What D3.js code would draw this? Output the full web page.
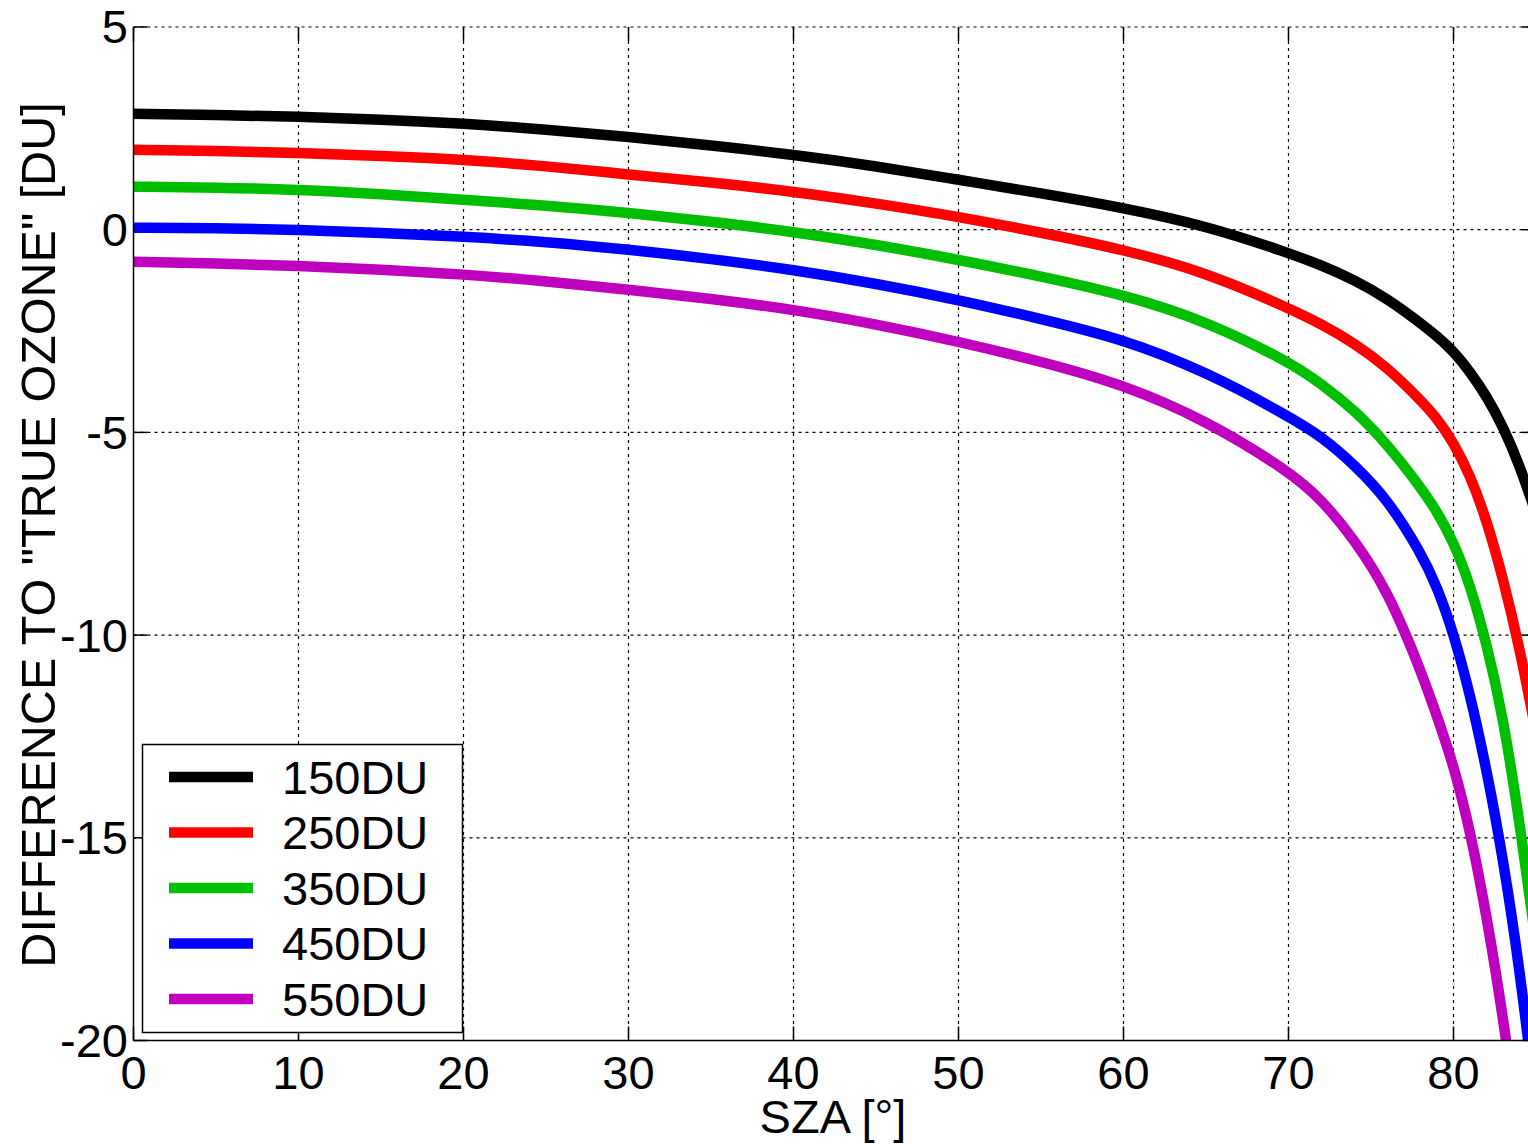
<!DOCTYPE html>
<html>
<head>
<meta charset="utf-8">
<script src="https://cdn.jsdelivr.net/npm/d3@7"></script>
<style>
  body { margin: 0; background: #fff; }
  svg { display: block; font-family: "Liberation Sans", Arial, sans-serif; }
</style>
</head>
<body>
<div id="root"></div>
<script>
// Solar zenith angles (deg) at which the curves were read
const sza = [0, 5, 10, 15, 20, 25, 30, 35, 40, 45, 50, 55, 60, 65, 70, 72, 74, 76, 78, 79, 80, 81, 82, 83, 84, 85];

// Difference to "true ozone" [DU], one array per total ozone column
const du150 = [2.86, 2.83, 2.79, 2.72, 2.62, 2.47, 2.29, 2.08, 1.85, 1.57, 1.23, 0.9, 0.54, 0.1, -0.57, -0.88, -1.24, -1.7, -2.3, -2.63, -3.0, -3.5, -4.1, -4.85, -5.8, -7.0];
const du250 = [1.97, 1.94, 1.9, 1.82, 1.73, 1.57, 1.36, 1.17, 0.94, 0.65, 0.32, -0.07, -0.49, -1.05, -1.93, -2.33, -2.8, -3.4, -4.2, -4.65, -5.25, -6.05, -7.15, -8.6, -10.3, -12.4];
const du350 = [1.06, 1.04, 0.99, 0.88, 0.74, 0.6, 0.42, 0.2, -0.05, -0.37, -0.74, -1.15, -1.6, -2.25, -3.25, -3.8, -4.45, -5.3, -6.35, -6.95, -7.7, -8.75, -10.2, -12.0, -14.6, -17.6];
const du450 = [0.05, 0.04, 0.0, -0.08, -0.17, -0.3, -0.49, -0.72, -0.99, -1.33, -1.73, -2.2, -2.7, -3.5, -4.6, -5.1, -5.8, -6.65, -7.95, -8.8, -9.95, -11.45, -13.3, -15.5, -18.2, -21.6];
const du550 = [-0.79, -0.83, -0.89, -0.98, -1.1, -1.27, -1.48, -1.7, -1.97, -2.33, -2.76, -3.25, -3.82, -4.7, -5.95, -6.65, -7.65, -8.9, -10.85, -12.0, -13.2, -14.8, -16.9, -19.4, -22.4, -26.0];

const seriesNames = ["150DU", "250DU", "350DU", "450DU", "550DU"];
const seriesValues = [du150, du250, du350, du450, du550];
const seriesColors = ["#000000", "#ff0000", "#00bf00", "#0000ff", "#bf00bf"];

const xTicks = [0, 10, 20, 30, 40, 50, 60, 70, 80];
const yTicks = [5, 0, -5, -10, -15, -20];

const width = 1528;
const height = 1144;
const fontSize = 47;

const margins = { top: 27, left: 133.5 };
const plotW = 85 * 16.5;
const plotH = 1040.5 - margins.top;

const svg = d3
  .select("#root")
  .append("svg")
  .attr("width", width)
  .attr("height", height);

const x = d3.scaleLinear().domain([0, 85]).range([margins.left, margins.left + plotW]);
const y = d3.scaleLinear().domain([-20, 5]).range([margins.top + plotH, margins.top]);

// grid lines (dotted, MATLAB style)
const grid = svg.append("g").attr("stroke", "#000").attr("stroke-width", 1.2)
  .attr("stroke-dasharray", "3,4");
grid.selectAll(".vgrid")
  .data(xTicks.slice(1))
  .join("line")
  .attr("x1", (d) => x(d)).attr("x2", (d) => x(d))
  .attr("y1", y(5)).attr("y2", y(-20));
grid.selectAll(".hgrid")
  .data(yTicks.slice(0, -1))
  .join("line")
  .attr("x1", x(0)).attr("x2", x(85))
  .attr("y1", (d) => y(d)).attr("y2", (d) => y(d));

// inward ticks on all four sides
const tickLen = 14;
const ticks = svg.append("g").attr("stroke", "#000").attr("stroke-width", 1.5);
xTicks.forEach((t) => {
  ticks.append("line").attr("x1", x(t)).attr("x2", x(t)).attr("y1", y(-20)).attr("y2", y(-20) - tickLen);
  ticks.append("line").attr("x1", x(t)).attr("x2", x(t)).attr("y1", y(5)).attr("y2", y(5) + tickLen);
});
yTicks.forEach((t) => {
  ticks.append("line").attr("x1", x(0)).attr("x2", x(0) + tickLen).attr("y1", y(t)).attr("y2", y(t));
  ticks.append("line").attr("x1", x(85)).attr("x2", x(85) - tickLen).attr("y1", y(t)).attr("y2", y(t));
});

// clip curves to the axes box
svg.append("clipPath").attr("id", "plotClip")
  .append("rect")
  .attr("x", x(0)).attr("y", y(5))
  .attr("width", plotW).attr("height", plotH);

const line = d3.line()
  .x((d) => x(d[0]))
  .y((d) => y(d[1]))
  .curve(d3.curveBasis);

svg.append("g")
  .attr("clip-path", "url(#plotClip)")
  .selectAll("path")
  .data(seriesValues)
  .join("path")
  .attr("fill", "none")
  .attr("stroke", (d, i) => seriesColors[i])
  .attr("stroke-width", 10.5)
  .attr("stroke-linejoin", "round")
  .attr("d", (vals) => line(sza.map((s, i) => [s, vals[i]])));

// axis lines (left and bottom solid)
svg.append("line").attr("x1", x(0)).attr("x2", x(0)).attr("y1", y(5)).attr("y2", y(-20))
  .attr("stroke", "#000").attr("stroke-width", 1.5);
svg.append("line").attr("x1", x(0)).attr("x2", x(85)).attr("y1", y(-20)).attr("y2", y(-20))
  .attr("stroke", "#000").attr("stroke-width", 1.5);

// tick labels
svg.append("g").selectAll("text")
  .data(xTicks)
  .join("text")
  .attr("x", (d) => x(d))
  .attr("y", 1089)
  .attr("text-anchor", "middle")
  .attr("font-size", fontSize)
  .text((d) => d);

svg.append("g").selectAll("text")
  .data(yTicks)
  .join("text")
  .attr("x", 128)
  .attr("y", (d) => y(d))
  .attr("dy", "0.35em")
  .attr("text-anchor", "end")
  .attr("font-size", fontSize)
  .text((d) => d);

// axis labels
svg.append("text")
  .attr("x", 833)
  .attr("y", 1133)
  .attr("text-anchor", "middle")
  .attr("font-size", fontSize)
  .text("SZA [°]");

svg.append("text")
  .attr("transform", "translate(55, 535) rotate(-90)")
  .attr("text-anchor", "middle")
  .attr("font-size", 48.5)
  .text("DIFFERENCE TO \"TRUE OZONE\" [DU]");

// legend
const legend = svg.append("g");
legend.append("rect")
  .attr("x", 142.5).attr("y", 744.5)
  .attr("width", 320).attr("height", 288)
  .attr("fill", "#fff").attr("stroke", "#000").attr("stroke-width", 1.5);

const rowY = (i) => 777 + i * 55.5;
legend.selectAll("line")
  .data(seriesNames)
  .join("line")
  .attr("x1", 169).attr("x2", 253)
  .attr("y1", (d, i) => rowY(i)).attr("y2", (d, i) => rowY(i))
  .attr("stroke", (d, i) => seriesColors[i])
  .attr("stroke-width", 10.5);
legend.selectAll("text")
  .data(seriesNames)
  .join("text")
  .attr("x", 282)
  .attr("y", (d, i) => rowY(i))
  .attr("dy", "0.36em")
  .attr("font-size", fontSize)
  .text((d) => d);
</script>
</body>
</html>
